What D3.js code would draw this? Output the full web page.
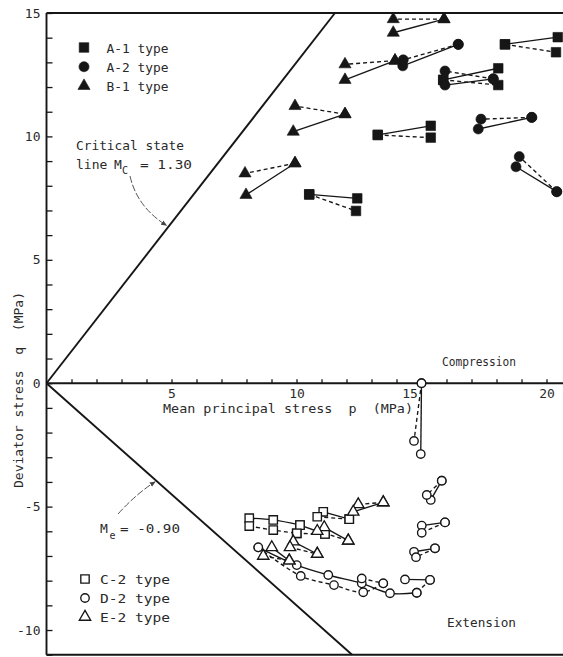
<!DOCTYPE html>
<html>
<head>
<meta charset="utf-8">
<script src="https://cdn.jsdelivr.net/npm/d3@7"></script>
<style>
  html, body { margin: 0; padding: 0; background: #fff; }
  svg { display: block; }
  text { font-family: "DejaVu Sans Mono", monospace; fill: #2a2a2a; white-space: pre; }
</style>
</head>
<body>
<svg id="chart" width="563" height="657"></svg>
<script>
// Labelled ticks on each axis (MPa)
const pLabelTicks = [5, 10, 15, 20];
const qLabelTicks = [-10, -5, 0, 5, 10, 15];

// Critical state line slopes
const slopeCompression = 1.30;
const slopeExtension = -0.90;

// Stress paths per specimen type: [line style, [[p, q], ...]] in MPa
const pathsA1 = [
  ["solid",  [[18.34, 13.73], [20.45, 14.02]]],
  ["dashed", [[18.34, 13.73], [20.38, 13.41]]],
  ["solid",  [[15.87, 12.29], [18.07, 12.76]]],
  ["dashed", [[15.87, 12.29], [18.07, 12.08]]],
  ["solid",  [[13.25, 10.06], [15.37, 10.43]]],
  ["dashed", [[13.25, 10.06], [15.37, 9.95]]],
  ["solid",  [[10.51, 7.65], [12.43, 7.49]]],
  ["dashed", [[10.51, 7.65], [12.38, 6.98]]]
];
const pathsA2 = [
  ["solid",  [[16.47, 13.73], [14.25, 12.86]]],
  ["dashed", [[16.47, 13.73], [14.27, 13.10]]],
  ["solid",  [[17.87, 12.33], [15.94, 12.08]]],
  ["dashed", [[17.87, 12.33], [15.94, 12.65]]],
  ["solid",  [[19.41, 10.77], [17.27, 10.30]]],
  ["dashed", [[19.41, 10.77], [17.38, 10.70]]],
  ["solid",  [[20.41, 7.76], [18.78, 8.77]]],
  ["dashed", [[20.41, 7.76], [18.91, 9.18]]]
];
const pathsB1 = [
  ["solid",  [[15.90, 14.75], [13.87, 14.20]]],
  ["dashed", [[15.90, 14.75], [13.87, 14.75]]],
  ["solid",  [[13.94, 13.07], [11.94, 12.29]]],
  ["dashed", [[13.94, 13.07], [11.94, 12.92]]],
  ["solid",  [[11.94, 10.90], [9.87, 10.19]]],
  ["dashed", [[11.94, 10.90], [9.94, 11.23]]],
  ["solid",  [[9.94, 8.91], [7.98, 7.63]]],
  ["dashed", [[9.94, 8.91], [7.94, 8.50]]]
];
const pathsC2 = [
  ["solid",  [[8.11, -5.47], [9.07, -5.54], [10.14, -5.75]]],
  ["dashed", [[8.11, -5.79], [9.07, -5.95], [10.01, -6.08]]],
  ["solid",  [[10.14, -5.75], [11.14, -6.11]]],
  ["dashed", [[10.01, -6.08], [11.14, -6.11]]],
  ["solid",  [[11.07, -5.21], [12.11, -5.51]]],
  ["dashed", [[10.83, -5.41], [12.11, -5.51]]]
];
const pathsD2 = [
  ["solid",  [[15.00, 0.00], [14.97, -2.87]]],
  ["dashed", [[15.00, 0.00], [14.70, -2.34]]],
  ["solid",  [[15.81, -3.95], [15.37, -4.73]]],
  ["dashed", [[15.81, -3.95], [15.21, -4.53]]],
  ["solid",  [[15.94, -5.64], [15.01, -5.77]]],
  ["dashed", [[15.94, -5.64], [15.01, -6.06]]],
  ["solid",  [[15.54, -6.69], [14.70, -6.83]]],
  ["dashed", [[15.54, -6.69], [14.78, -7.05]]],
  ["solid",  [[15.34, -7.97], [14.34, -7.95]]],
  ["dashed", [[15.34, -7.97], [14.81, -8.49]]],
  ["solid",  [[8.47, -6.65], [10.01, -7.37], [11.27, -7.77], [12.61, -8.11], [13.74, -8.51], [14.81, -8.49]]],
  ["dashed", [[8.47, -6.65], [10.17, -7.81], [11.50, -8.18], [12.67, -8.47], [13.47, -8.11]]],
  ["dashed", [[12.61, -7.91], [13.47, -8.11]]]
];
const pathsE2 = [
  ["dashed", [[13.47, -4.83], [12.47, -4.91]]],
  ["solid",  [[13.47, -4.83], [12.27, -5.21]]],
  ["solid",  [[11.11, -5.84], [12.07, -6.38]]],
  ["dashed", [[10.83, -5.99], [12.07, -6.38]]],
  ["solid",  [[9.87, -6.42], [10.83, -6.92]]],
  ["dashed", [[9.74, -6.65], [10.83, -6.92]]],
  ["solid",  [[9.01, -6.65], [9.71, -7.19]]],
  ["dashed", [[8.67, -7.00], [9.71, -7.19]]]
];

const series = [
  { name: "A-1 type", paths: pathsA1, shape: d3.symbolSquare,   filled: true,  size: 92 },
  { name: "A-2 type", paths: pathsA2, shape: d3.symbolCircle,   filled: true,  size: 80 },
  { name: "B-1 type", paths: pathsB1, shape: d3.symbolTriangle, filled: true,  size: 64 },
  { name: "C-2 type", paths: pathsC2, shape: d3.symbolSquare,   filled: false, size: 70 },
  { name: "D-2 type", paths: pathsD2, shape: d3.symbolCircle,   filled: false, size: 56 },
  { name: "E-2 type", paths: pathsE2, shape: d3.symbolTriangle, filled: false, size: 56 }
];

const ink = "#161616";
const svg = d3.select("#chart");

const x = d3.scaleLinear().domain([0, 21]).range([46.5, 571.5]);
const y = d3.scaleLinear().domain([-11, 15]).range([654.7, 13]);
const [pMin, pMax] = x.domain();
const [qMin, qMax] = y.domain();

// Frame and zero line
const frame = svg.append("g").attr("stroke", ink).attr("stroke-width", 1.9).attr("fill", "none");
frame.append("line").attr("x1", x(pMin)).attr("x2", x(pMax)).attr("y1", y(qMax)).attr("y2", y(qMax));
frame.append("line").attr("x1", x(pMin)).attr("x2", x(pMax)).attr("y1", y(qMin)).attr("y2", y(qMin));
frame.append("line").attr("x1", x(pMin)).attr("x2", x(pMin)).attr("y1", y(qMin)).attr("y2", y(qMax));
frame.append("line").attr("x1", x(pMax)).attr("x2", x(pMax)).attr("y1", y(qMin)).attr("y2", y(qMax));
frame.append("line").attr("x1", x(pMin)).attr("x2", x(pMax)).attr("y1", y(0)).attr("y2", y(0));

// Left axis: a tick every 1 MPa pointing into the plot
const yAxis = d3.axisLeft(y)
  .tickValues(d3.range(qMin, qMax + 1))
  .tickSizeInner(-6).tickSizeOuter(0).tickPadding(6)
  .tickFormat(d => qLabelTicks.includes(d) ? String(d) : "");
const gy = svg.append("g").attr("transform", `translate(${x(0)},0)`).call(yAxis);
gy.select(".domain").remove();
gy.selectAll("line").attr("stroke", ink).attr("stroke-width", 1.3);
gy.selectAll("text").attr("font-size", 13).attr("font-family", "DejaVu Sans Mono").attr("fill", "#2a2a2a");

// p axis on the q = 0 line, ticks pointing up
const xAxis = d3.axisBottom(x)
  .tickValues(d3.range(1, pMax))
  .tickSizeInner(-4).tickSizeOuter(0).tickPadding(6)
  .tickFormat(d => pLabelTicks.includes(d) ? String(d) : "");
const gx = svg.append("g").attr("transform", `translate(0,${y(0)})`).call(xAxis);
gx.select(".domain").remove();
gx.selectAll("line").attr("stroke", ink).attr("stroke-width", 1.3);
gx.selectAll("text").attr("font-size", 13).attr("font-family", "DejaVu Sans Mono").attr("fill", "#2a2a2a");
// keep the "15" clear of the stress path running down from the axis
gx.selectAll(".tick").filter(d => d === 15).select("text").attr("dx", -12);

// Critical state lines
const csl = svg.append("g").attr("stroke", ink).attr("stroke-width", 1.9);
csl.append("line").attr("x1", x(0)).attr("y1", y(0))
  .attr("x2", x(qMax / slopeCompression)).attr("y2", y(qMax));
csl.append("line").attr("x1", x(0)).attr("y1", y(0))
  .attr("x2", x(qMin / slopeExtension)).attr("y2", y(qMin));

// Stress paths
const line = d3.line().x(d => x(d[0])).y(d => y(d[1])).curve(d3.curveCatmullRom.alpha(0.5));
const pathLayer = svg.append("g").attr("fill", "none").attr("stroke", ink).attr("stroke-width", 1.35);
series.forEach(s => {
  s.paths.forEach(([style, pts]) => {
    pathLayer.append("path")
      .attr("d", line(pts))
      .attr("stroke-dasharray", style === "dashed" ? "4,3" : null);
  });
});

// Markers on every path vertex
const markLayer = svg.append("g");
function drawMark(g, s, px, py) {
  g.append("path")
    .attr("d", d3.symbol().type(s.shape).size(s.size)())
    .attr("transform", `translate(${px},${py})`)
    .attr("fill", s.filled ? ink : "#fff")
    .attr("stroke", ink)
    .attr("stroke-width", s.filled ? 0.6 : 1.35);
}
series.forEach(s => {
  s.paths.forEach(([, pts]) => pts.forEach(d => drawMark(markLayer, s, x(d[0]), y(d[1]))));
});

// Legends
const legendTop = { x: 84, y: 47.5, step: 19.2, textX: 106.5, textLen: 62 };
const legendBottom = { x: 85, y: 579, step: 19, textX: 100, textLen: 70 };
[[series.slice(0, 3), legendTop], [series.slice(3), legendBottom]].forEach(([items, L]) => {
  items.forEach((s, i) => {
    const cy = L.y + i * L.step;
    drawMark(svg, s, L.x, cy);
    svg.append("text").attr("x", L.textX).attr("y", cy + 5)
      .attr("font-size", 13).attr("textLength", L.textLen).attr("lengthAdjust", "spacingAndGlyphs")
      .text(s.name);
  });
});

// Axis titles
svg.append("text").attr("x", 163).attr("y", 413).attr("font-size", 13)
  .attr("textLength", 250).attr("lengthAdjust", "spacingAndGlyphs")
  .text("Mean principal stress  p  (MPa)");
svg.append("text").attr("transform", "translate(22.5,390) rotate(-90)")
  .attr("text-anchor", "middle").attr("font-size", 13)
  .attr("textLength", 196).attr("lengthAdjust", "spacingAndGlyphs")
  .text("Deviator stress  q  (MPa)");

// Region labels
svg.append("text").attr("x", 442).attr("y", 366).attr("font-size", 13)
  .attr("textLength", 74).attr("lengthAdjust", "spacingAndGlyphs").text("Compression");
svg.append("text").attr("x", 447).attr("y", 627).attr("font-size", 13)
  .attr("textLength", 69).attr("lengthAdjust", "spacingAndGlyphs").text("Extension");

// Annotations for the critical state lines
const defs = svg.append("defs");
defs.append("marker").attr("id", "tip").attr("viewBox", "0 0 10 10")
  .attr("refX", 9).attr("refY", 5).attr("markerWidth", 6).attr("markerHeight", 6)
  .attr("orient", "auto")
  .append("path").attr("d", "M0,1 L10,5 L0,9 Z").attr("fill", "#444");

svg.append("text").attr("x", 76).attr("y", 150).attr("font-size", 13)
  .attr("textLength", 108).attr("lengthAdjust", "spacingAndGlyphs").text("Critical state");
svg.append("text").attr("x", 76).attr("y", 168.5).attr("font-size", 13).text("line");
svg.append("text").attr("x", 114).attr("y", 168.5).attr("font-size", 13).text("M");
svg.append("text").attr("x", 122).attr("y", 174).attr("font-size", 10).text("C");
svg.append("text").attr("x", 140).attr("y", 168.5).attr("font-size", 13)
  .attr("textLength", 52).attr("lengthAdjust", "spacingAndGlyphs").text("= " + slopeCompression.toFixed(2));

const qc = 6.35;
svg.append("path")
  .attr("d", `M130,176 Q137,207 ${x(qc / slopeCompression) - 2},${y(qc) - 1}`)
  .attr("fill", "none").attr("stroke", "#555").attr("stroke-width", 1)
  .attr("stroke-dasharray", "7,2").attr("marker-end", "url(#tip)");

svg.append("text").attr("x", 100).attr("y", 533).attr("font-size", 13).attr("fill", "#444").text("M");
svg.append("text").attr("x", 109.5).attr("y", 539).attr("font-size", 10).attr("fill", "#444").text("e");
svg.append("text").attr("x", 120).attr("y", 533).attr("font-size", 13).attr("fill", "#444")
  .attr("textLength", 60).attr("lengthAdjust", "spacingAndGlyphs")
  .text("= " + slopeExtension.toFixed(2));

const qe = -3.95;
svg.append("path")
  .attr("d", `M118,514 Q136,494 ${x(qe / slopeExtension) - 1},${y(qe) + 1}`)
  .attr("fill", "none").attr("stroke", "#555").attr("stroke-width", 1)
  .attr("stroke-dasharray", "7,2").attr("marker-end", "url(#tip)");
</script>
</body>
</html>
